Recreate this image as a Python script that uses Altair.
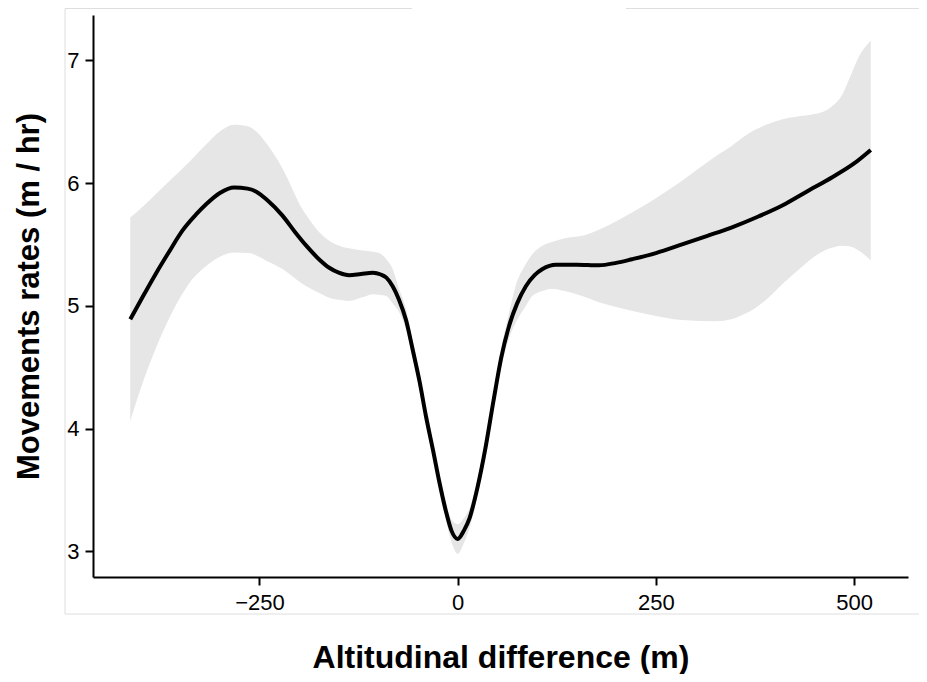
import altair as alt
import pandas as pd

# Smoothed curve (altitudinal difference in m, movement rate in m/hr)
line_x = [-413, -395, -380, -365, -347, -330, -317, -300, -282, -265, -254, -240,
          -221, -205, -191, -175, -162, -150, -137, -122, -107, -97, -90, -82, -74,
          -65, -57, -48, -40, -31, -23, -15, -8, 0, 8, 15, 25, 35, 45, 55, 65, 75,
          86, 97, 107, 124, 150, 178, 200, 220, 250, 283, 315, 346, 380, 410, 440,
          473, 500, 521]
line_y = [4.89, 5.10, 5.27, 5.43, 5.615, 5.745, 5.83, 5.92, 5.965, 5.955, 5.93, 5.86,
          5.735, 5.60, 5.49, 5.38, 5.31, 5.27, 5.25, 5.26, 5.27, 5.255, 5.23, 5.16, 5.05,
          4.88, 4.65, 4.38, 4.10, 3.82, 3.56, 3.33, 3.17, 3.10, 3.17, 3.27, 3.52, 3.84,
          4.22, 4.58, 4.84, 5.02, 5.16, 5.25, 5.30, 5.335, 5.335, 5.33, 5.35, 5.38,
          5.43, 5.50, 5.57, 5.64, 5.73, 5.82, 5.93, 6.05, 6.16, 6.27]

# Confidence band
band_x = [-413, -397, -381, -360, -347, -339, -318, -300, -282, -263, -254, -242,
          -221, -196, -191, -170, -162, -145, -137, -120, -107, -99, -90, -82, -74,
          -65, -57, -48, -40, -31, -23, -15, -8, 0, 8, 15, 25, 35, 45, 55, 65, 73,
          86, 94, 107, 119, 135, 157, 178, 200, 241, 283, 326, 345, 359, 375, 389,
          410, 431, 452, 464, 473, 485, 494, 506, 521]
band_lo = [4.06, 4.38, 4.65, 4.95, 5.10, 5.18, 5.32, 5.40, 5.435, 5.43, 5.41, 5.37,
           5.30, 5.18, 5.16, 5.09, 5.065, 5.045, 5.04, 5.07, 5.095, 5.09, 5.08, 5.02, 4.95,
           4.80, 4.58, 4.32, 4.04, 3.76, 3.50, 3.26, 3.08, 2.98, 3.07, 3.19, 3.45, 3.77,
           4.15, 4.50, 4.74, 4.86, 5.00, 5.08, 5.12, 5.14, 5.12, 5.08, 5.03, 4.99, 4.93,
           4.885, 4.875, 4.89, 4.925, 4.98, 5.05, 5.18, 5.30, 5.41, 5.455, 5.475, 5.49,
           5.485, 5.45, 5.37]
band_hi = [5.72, 5.81, 5.91, 6.04, 6.12, 6.17, 6.31, 6.42, 6.475, 6.46, 6.42, 6.33,
           6.12, 5.79, 5.74, 5.57, 5.53, 5.48, 5.47, 5.45, 5.44, 5.43, 5.38, 5.30, 5.14,
           4.97, 4.72, 4.44, 4.16, 3.88, 3.62, 3.40, 3.26, 3.22, 3.27, 3.35, 3.59, 3.91,
           4.29, 4.66, 4.95, 5.16, 5.34, 5.42, 5.49, 5.52, 5.55, 5.57, 5.62, 5.69, 5.84,
           6.02, 6.22, 6.30, 6.37, 6.435, 6.475, 6.52, 6.545, 6.565, 6.59, 6.63, 6.72,
           6.85, 7.03, 7.16]

x_ticks = [-250, 0, 250, 500]
y_ticks = [3, 4, 5, 6, 7]
x_title = "Altitudinal difference (m)"
y_title = "Movements rates (m / hr)"

line_df = pd.DataFrame({"alt": line_x, "rate": line_y})
band_df = pd.DataFrame({"alt": band_x, "lo": band_lo, "hi": band_hi})

FONT = "Liberation Sans"
xscale = alt.Scale(domain=[-460, 568], nice=False, zero=False)
yscale = alt.Scale(domain=[2.79, 7.37], nice=False, zero=False)

band = alt.Chart(band_df).mark_area(color="#e6e6e6", interpolate="monotone").encode(
    x=alt.X("alt:Q", scale=xscale,
            axis=alt.Axis(values=x_ticks, title=x_title, labelPadding=7,
                          labelFlush=False, titleBaseline="alphabetic", titleY=90,
                          titleFontSize=32)),
    y=alt.Y("lo:Q", scale=yscale,
            axis=alt.Axis(values=y_ticks, format="d", title=y_title, labelPadding=6,
                          labelFlush=False, titleBaseline="alphabetic", titleX=-55,
                          titleFontSize=31)),
    y2="hi:Q",
)

line = alt.Chart(line_df).mark_line(color="black", strokeWidth=4,
                                    interpolate="monotone").encode(
    x=alt.X("alt:Q", scale=xscale),
    y=alt.Y("rate:Q", scale=yscale),
)

one = alt.Data(values=[{}])
fc = "#dedede"
frame_left = alt.Chart(one).mark_rule(color=fc, strokeWidth=1).encode(
    x=alt.value(-28), y=alt.value(-6.5), y2=alt.value(599))
frame_top1 = alt.Chart(one).mark_rule(color=fc, strokeWidth=1).encode(
    x=alt.value(-28), x2=alt.value(319), y=alt.value(-6.5))
frame_top2 = alt.Chart(one).mark_rule(color=fc, strokeWidth=1).encode(
    x=alt.value(533), x2=alt.value(830), y=alt.value(-6.5))
frame_bottom = alt.Chart(one).mark_rule(color=fc, strokeWidth=1).encode(
    x=alt.value(-28), x2=alt.value(830), y=alt.value(599))

chart = alt.layer(frame_left, frame_top1, frame_top2, frame_bottom, band, line).properties(
    width=815, height=562,
    autosize=alt.AutoSizeParams(type="none"),
    padding={"left": 85, "top": 7, "right": 11, "bottom": 97},
    background="white",
).configure_view(stroke=None).configure_axis(
    grid=False,
    domainColor="black", domainWidth=2,
    tickColor="black", tickWidth=2, tickSize=8,
    labelFont=FONT, labelFontSize=22, labelColor="black",
    titleFont=FONT, titleFontWeight="bold", titleColor="black",
)

chart.save("out.html", embed_options={"renderer": "svg", "actions": False})
